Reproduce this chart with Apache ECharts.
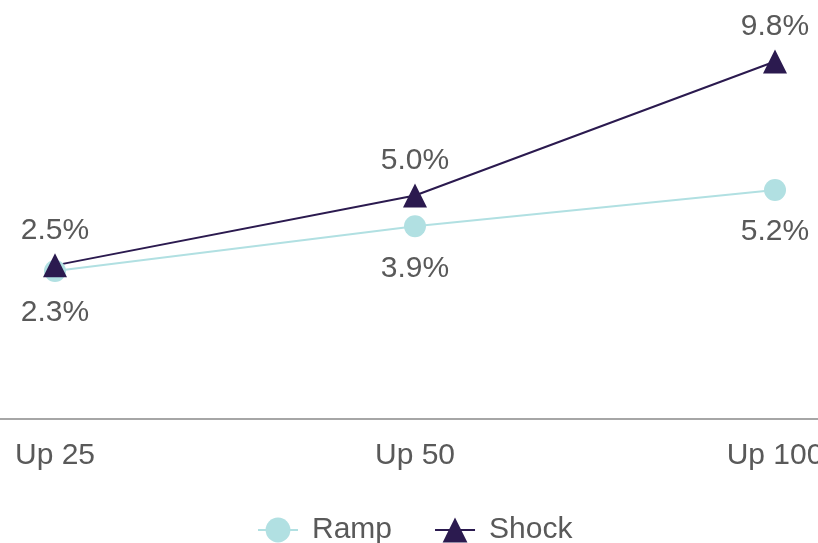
<!DOCTYPE html>
<html><head><meta charset="utf-8">
<script src="https://cdn.jsdelivr.net/npm/echarts@6/dist/echarts.min.js"></script>
<style>html,body{margin:0;padding:0;background:#fff}#c{width:818px;height:543px}</style>
</head><body><div id="c"></div>
<script>
var categories = ['Up 25', 'Up 50', 'Up 100'];
var rampValues = [2.3, 3.9, 5.2];
var shockValues = [2.5, 5.0, 9.8];

var chart = echarts.init(document.getElementById('c'));
var txt = '#595959';
var font = '"Liberation Sans", Arial, sans-serif';
chart.setOption({
  animation: false,
  textStyle: { fontFamily: font },
  grid: [
    { left: 55, right: 43, top: 0, bottom: 124, containLabel: false, outerBoundsMode: 'none' },
    { left: 0, right: 0, top: 0, bottom: 124, containLabel: false, outerBoundsMode: 'none' }
  ],
  xAxis: [
    {
      type: 'category', data: categories, boundaryGap: false, gridIndex: 0,
      axisLine: { show: false },
      axisTick: { show: false },
      axisLabel: { color: txt, fontSize: 30, margin: 22, fontFamily: font, hideOverlap: false }
    },
    {
      type: 'category', data: categories, boundaryGap: false, gridIndex: 1,
      axisLine: { show: true, onZero: false, lineStyle: { color: '#a6a6a6', width: 2 } },
      axisTick: { show: false },
      axisLabel: { show: false }
    }
  ],
  yAxis: [
    { type: 'value', min: -3, max: 12, show: false, gridIndex: 0, splitLine: { show: false } },
    { type: 'value', min: -3, max: 12, show: false, gridIndex: 1, splitLine: { show: false } }
  ],
  legend: {
    top: 510, left: 252, itemGap: 42, itemWidth: 40, itemHeight: 31,
    textStyle: { color: txt, fontSize: 30, fontFamily: font, padding: [0, 0, 0, 9] },
    data: ['Ramp', 'Shock']
  },
  series: [
    {
      name: 'Ramp', type: 'line', data: rampValues,
      symbol: 'circle', symbolSize: 22,
      lineStyle: { color: '#b1e0e2', width: 2 },
      itemStyle: { color: '#b1e0e2' },
      label: { show: true, position: 'bottom', distance: 16, color: txt, fontSize: 30, fontFamily: font,
        formatter: function (p) { return p.value.toFixed(1) + '%'; } }
    },
    {
      name: 'Shock', type: 'line', data: shockValues,
      symbol: 'triangle', symbolSize: 24,
      lineStyle: { color: '#2b1a4f', width: 2 },
      itemStyle: { color: '#2b1a4f' },
      label: { show: true, position: 'top', distance: 8, color: txt, fontSize: 30, fontFamily: font,
        formatter: function (p) { return p.value.toFixed(1) + '%'; } }
    }
  ]
});
</script></body></html>
